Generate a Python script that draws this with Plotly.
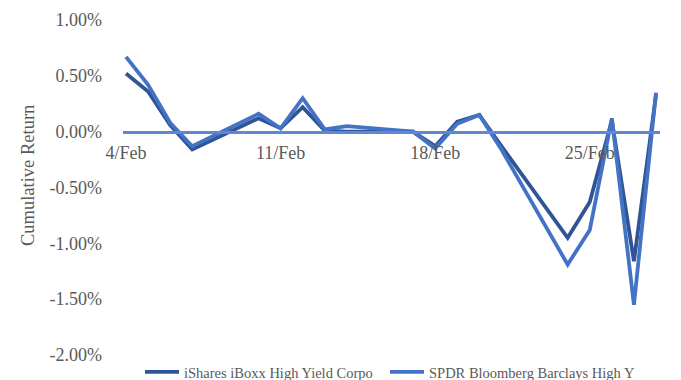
import plotly.graph_objects as go

dates = ["2020-02-04", "2020-02-05", "2020-02-06", "2020-02-07", "2020-02-10",
         "2020-02-11", "2020-02-12", "2020-02-13", "2020-02-14", "2020-02-17",
         "2020-02-18", "2020-02-19", "2020-02-20", "2020-02-21", "2020-02-24",
         "2020-02-25", "2020-02-26", "2020-02-27", "2020-02-28"]
ishares = [0.52, 0.36, 0.06, -0.16, 0.12, 0.03, 0.22, 0.01, 0.00, 0.00,
           -0.13, 0.09, 0.15, -0.13, -0.95, -0.63, 0.10, -1.16, 0.33]
spdr = [0.67, 0.42, 0.08, -0.13, 0.16, 0.03, 0.30, 0.02, 0.05, 0.00,
        -0.15, 0.07, 0.15, -0.16, -1.19, -0.88, 0.12, -1.55, 0.35]
names = ["iShares iBoxx High Yield Corpo", "SPDR Bloomberg Barclays High Y"]
colors = ["#2F5597", "#4472C4"]
tick_dates = ["2020-02-04", "2020-02-11", "2020-02-18", "2020-02-25"]
tick_labels = ["4/Feb", "11/Feb", "18/Feb", "25/Feb"]
y_ticks = [1.0, 0.5, 0.0, -0.5, -1.0, -1.5, -2.0]
y_labels = ["1.00%", "0.50%", "0.00%", "-0.50%", "-1.00%", "-1.50%", "-2.00%"]

FONT = "Liberation Serif, Times New Roman, serif"
GREY = "#595959"

fig = go.Figure()
for vals, name, col, lg in zip([ishares, spdr], names, colors, ["legend", "legend2"]):
    fig.add_trace(go.Scatter(x=dates, y=vals, mode="lines", name=name, legend=lg,
                             line=dict(color=col, width=3.8)))

def leg(xpx):
    return dict(orientation="h", xref="container", x=xpx / 681, xanchor="left",
                yref="container", y=8 / 380, yanchor="middle",
                font=dict(size=14.5, color=GREY), bgcolor="rgba(0,0,0,0)",
                itemwidth=34)

fig.update_layout(
    width=681, height=380,
    margin=dict(l=123, r=21, t=20, b=25, autoexpand=False),
    paper_bgcolor="white", plot_bgcolor="white",
    font=dict(family=FONT, color=GREY, size=18),
    showlegend=True,
    legend=leg(140),
    legend2=leg(385),
    xaxis=dict(type="date", range=["2020-02-03 20:44", "2020-02-28 04:20"],
               tickvals=tick_dates, ticktext=tick_labels,
               anchor="free", position=2/3,
               showline=True, linecolor="#5F87D4", linewidth=2.5,
               showgrid=False, zeroline=False, ticks="",
               tickfont=dict(size=18, color=GREY), ticklabelstandoff=4),
    yaxis=dict(range=[-2, 1], tickvals=y_ticks, ticktext=y_labels,
               showgrid=False, zeroline=False, showline=False, ticks="",
               tickfont=dict(size=18, color=GREY), ticklabelstandoff=20),
    annotations=[dict(text="Cumulative Return", textangle=-90, xref="paper", yref="paper",
                      x=(28 - 123) / 537, y=(355 - 176) / 335, xanchor="center", yanchor="middle",
                      showarrow=False, font=dict(size=18.5, color=GREY, family=FONT))],
)

fig.write_html("out.html")
